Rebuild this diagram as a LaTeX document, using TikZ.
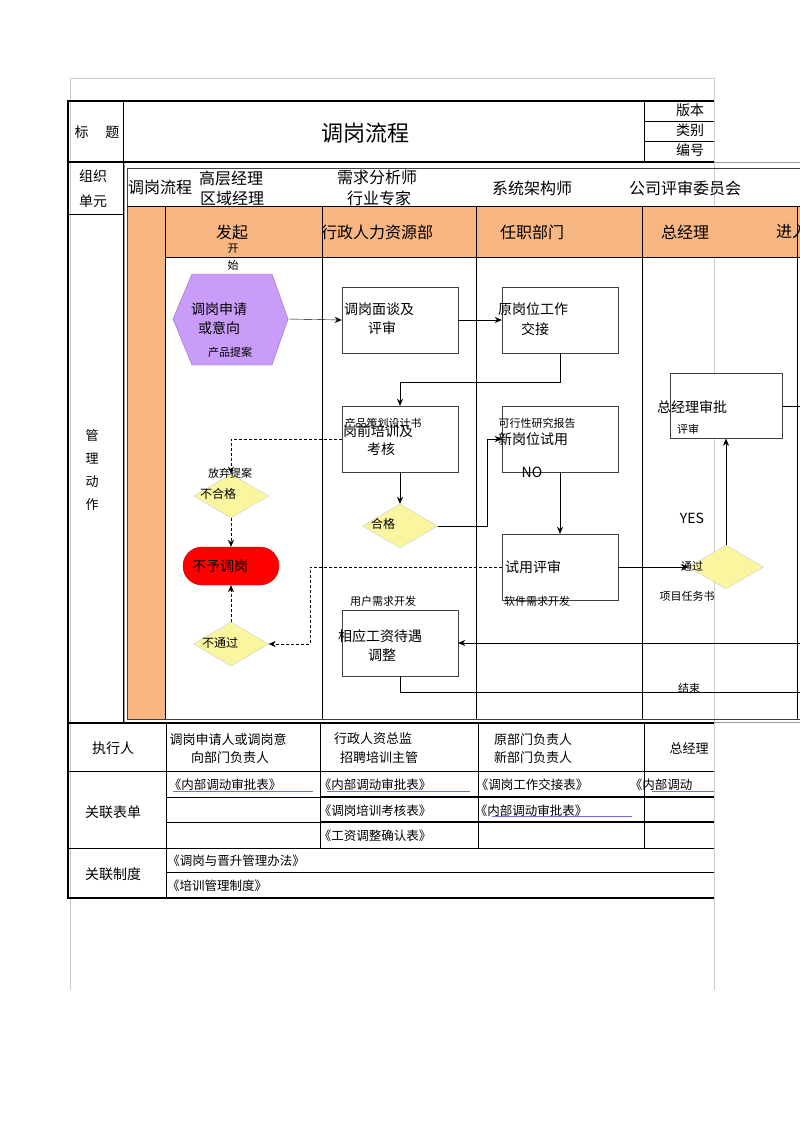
\documentclass[tikz,border=0pt]{standalone}
\usepackage{fontspec}
\setmainfont{Noto Sans CJK SC}
\usetikzlibrary{shapes.geometric,shapes.misc,arrows.meta}
\definecolor{laneorange}{RGB}{248,183,130}
\definecolor{startpurple}{RGB}{202,156,250}
\definecolor{decyellow}{RGB}{250,246,160}
\definecolor{formblue}{RGB}{110,110,225}
\tikzset{
	every box/.style={
		draw=black!75,
		fill=white,
		minimum width=116pt,
		minimum height=66pt,
		inner sep=0pt
	},
	decision/.style={
		diamond,
		draw=black!20,
		fill=decyellow,
		minimum width=75pt,
		minimum height=44pt,
		inner sep=0pt
	},
	stop box/.style={
		rounded rectangle,
		draw=red!75!black,
		fill=red,
		minimum width=96pt,
		minimum height=38pt,
		inner sep=0pt
	},
	title label/.style={font=\fontsize{22}{24}\selectfont},
	lane label/.style={font=\fontsize{16}{18}\selectfont},
	box label/.style={font=\fontsize{14}{16}\selectfont, inner sep=0pt},
	small label/.style={font=\fontsize{11}{13}\selectfont, inner sep=0pt},
	cell label/.style={font=\fontsize{14}{16}\selectfont, inner sep=0pt},
	row label/.style={font=\fontsize{13}{15}\selectfont, inner sep=0pt},
	form label/.style={font=\fontsize{12.5}{14}\selectfont, inner sep=0pt},
}

\begin{document}
\begin{tikzpicture}[x=1pt, y=-1pt, >={Stealth[length=7pt,width=6pt]}]

\useasboundingbox (0,0) rectangle (800,1133);
\clip (0,0) rectangle (800,1133);

\draw [black!20] (70,990) -- (70,78) -- (714,78) -- (714,990);

\draw [black!40] (124,162) rectangle (810,722);

\foreach \t/\x/\y [count=\i] in {调岗流程/160/187, 高层经理/231/178, 区域经理/232/198, 需求分析师/377/177, 行业专家/379/198, 系统架构师/532/188, 公司评审委员会/685/188}
	\node [lane label, inner sep=0pt] (org-\i) at (\x,\y) {\t};

\fill [laneorange] (128,206) rectangle (165,719);
\fill [laneorange] (165,206) rectangle (810,257);
\draw [black!75] (127,168) rectangle (810,719);
\draw [semithick] (127,206) -- (810,206);
\draw (165,257) -- (810,257);
\foreach \x in {165,322,476,642,797}
	\draw (\x,206) -- (\x,719);

\foreach \t/\x [count=\i] in {发起/232, 行政人力资源部/377, 任职部门/532, 总经理/685, 进入/792}
	\node [lane label] (lane-\i) at (\x,232) {\t};

\draw [draw=startpurple!70!black, fill=startpurple] (173,319) -- (192,274) -- (272,274) -- (288,319) -- (272,365) -- (192,365) -- cycle;
\coordinate (start) at (288,319);

\node [every box] (interview) at (400,320) {};
\node [every box] (handover) at (560,320) {};
\node [every box] (training) at (400,439) {};
\node [every box] (trial) at (560,439) {};
\node [every box] (review) at (560,567) {};
\node [every box] (salary) at (400,643) {};
\node [every box, minimum width=112pt, minimum height=65pt] (gm) at (726,406) {};

\node [decision] (fail-1) at (231,496) {};
\node [decision] (pass-1) at (400,526) {};
\node [decision] (pass-2) at (726,567) {};
\node [decision] (fail-2) at (231,644) {};
\node [stop box] (reject) at (231,566) {};

\coordinate (turn-1) at (560,382);
\coordinate (turn-2) at (487,526);
\coordinate (turn-3) at (310,567);
\coordinate (gm-out) at (810,406);
\coordinate (salary-in) at (810,643);
\coordinate (end-out) at (810,692);

\draw [->] (start) -- (interview.west);
\draw [->] (interview) -- (handover);
\draw [->] (handover.south) -- (turn-1) -| (training.north);
\draw [densely dashed, ->] (training.west) -| (fail-1.north);
\draw [densely dashed, ->] (fail-1.south) -- (reject.north);
\draw [->] (training.south) -- (pass-1.north);
\draw [->] (pass-1.east) -- (turn-2) |- (trial.west);
\draw [->] (trial.south) -- (review.north);
\draw [->] (review.east) -- (pass-2.west);
\draw [->] (pass-2.north) -- (gm.south);
\draw (gm.east) -- (gm-out);
\draw [densely dashed, ->] (review.west) -- (turn-3) |- (fail-2.east);
\draw [densely dashed, ->] (fail-2.north) -- (reject.south);
\draw [->] (salary-in) -- (salary.east);
\draw (salary.south) |- (end-out);

\foreach \t/\x/\y [count=\i] in {调岗申请/219/309, 或意向/219/328, 调岗面谈及/379/309, 评审/382/328, 原岗位工作/533/309, 交接/535/329, 岗前培训及/378/431, 考核/381/449, 新岗位试用/533/439, NO/532/472, 试用评审/533/567, 总经理审批/692/407, YES/692/518, 相应工资待遇/380/636, 调整/382/655, 不予调岗/220/566}
	\node [box label] (text-\i) at (\x,\y) {\t};

\foreach \t/\x/\y [count=\i] in {开/233/249, 始/233/265, 产品提案/230/352, 放弃提案/230/473, 产品策划设计书/383/423, 可行性研究报告/537/423, 评审/688/429, 项目任务书/687/596, 通过/692/566, 软件需求开发/537/601, 用户需求开发/383/601, 结束/689/688}
	\node [small label] (note-\i) at (\x,\y) {\t};

\foreach \t/\x/\y [count=\i] in {不合格/218/494, 合格/383/524, 不通过/220/643}
	\node [small label, font=\fontsize{12}{14}\selectfont] (dec-\i) at (\x,\y) {\t};

\draw [line width=2.5pt] (714,101) -- (68,101) -- (68,898) -- (714,898);
\draw [line width=1.5pt] (68,162) -- (714,162);
\draw (123,101) -- (123,723);
\draw (644,101) -- (644,162);
\draw (644,121) -- (714,121);
\draw (644,141) -- (714,141);
\draw (68,214) -- (123,214);
\draw [line width=1.5pt] (68,723) -- (714,723);
\draw (68,771) -- (714,771);
\draw (166,797) -- (320,797);
\draw [line width=1.5pt] (320,797) -- (714,797);
\draw (166,822) -- (320,822);
\draw [line width=1.5pt] (320,822) -- (714,822);
\draw (68,848) -- (714,848);
\draw (166,872) -- (714,872);
\draw (166,723) -- (166,898);
\foreach \x in {320,478,644}
	\draw (\x,723) -- (\x,848);

\node [title label] (title) at (365,133) {调岗流程};
\node [cell label] (head-1) at (97,132) {标\hspace{17pt}题};
\node [cell label, align=center, font=\fontsize{14}{25}\selectfont] (head-2) at (93,189) {组织\\单元};
\node [row label, align=center, font=\fontsize{13}{23}\selectfont] (head-3) at (92,470) {管\\理\\动\\作};
\foreach \t/\y [count=\i] in {版本/110, 类别/130, 编号/150}
	\node [cell label] (meta-\i) at (690,\y) {\t};

\foreach \t/\y [count=\i] in {执行人/748, 关联表单/812, 关联制度/874}
	\node [cell label] (row-\i) at (113,\y) {\t};

\foreach \t/\x/\y [count=\i] in {调岗申请人或调岗意/228/739, 向部门负责人/230/758, 行政人资总监/373/739, 招聘培训主管/379/758, 原部门负责人/533/740, 新部门负责人/533/758, 总经理/689/748}
	\node [row label] (who-\i) at (\x,\y) {\t};

\foreach \t/\x/\y [count=\i] in {《内部调动审批表》/225/785, 《内部调动审批表》/375/785, 《调岗工作交接表》/532/785, 《内部调动/661/785, 《调岗培训考核表》/375/811, 《内部调动审批表》/531/811, 《工资调整确认表》/375/836, 《调岗与晋升管理办法》/236/861, 《培训管理制度》/217/886}
	\node [form label] (form-\i) at (\x,\y) {\t};

\draw [formblue, line width=1pt] (173,791) -- (313,791);
\draw [formblue, line width=1pt] (327,791) -- (470,791);
\draw [formblue, line width=1pt] (652,791) -- (714,791);
\draw [formblue, line width=1pt] (492,816) -- (632,816);

\end{tikzpicture}
\end{document}
